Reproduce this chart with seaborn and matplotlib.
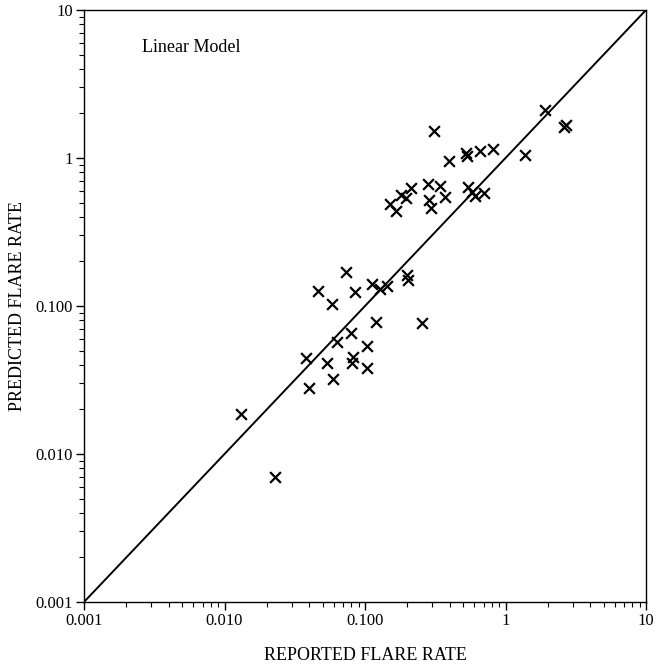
import matplotlib
matplotlib.use("Agg")
import matplotlib.pyplot as plt
import matplotlib.ticker as mticker
import seaborn as sns
import pandas as pd
import numpy as np

reported = [1.91, 2.62, 2.70, 0.311, 1.38, 0.818, 0.66, 0.52, 0.53, 0.398,
            0.543, 0.58, 0.61, 0.706, 0.342, 0.279, 0.371, 0.287, 0.295, 0.211,
            0.18, 0.195, 0.151, 0.166,
            0.073, 0.0466, 0.0585, 0.0849, 0.1117, 0.128, 0.144, 0.200, 0.203,
            0.119, 0.256, 0.0794, 0.063, 0.1038, 0.038, 0.0533, 0.0818, 0.0804,
            0.1028, 0.0589, 0.0399,
            0.0130, 0.0229]
predicted = [2.11, 1.62, 1.68, 1.52, 1.05, 1.15, 1.11, 1.08, 1.03, 0.955,
             0.64, 0.59, 0.55, 0.583, 0.65, 0.664, 0.548, 0.52, 0.462, 0.624,
             0.56, 0.54, 0.487, 0.439,
             0.169, 0.126, 0.1026, 0.124, 0.141, 0.130, 0.1365, 0.162, 0.151,
             0.0776, 0.0764, 0.066, 0.0574, 0.0537, 0.0443, 0.0414, 0.045, 0.041,
             0.0379, 0.032, 0.0281,
             0.0186, 0.00696]

line_x = [0.001, 10]
tick_vals = [0.001, 0.01, 0.1, 1, 10]
tick_labels = ["0.001", "0.010", "0.100", "1", "10"]

df = pd.DataFrame({"reported": reported, "predicted": predicted})
line_df = pd.DataFrame({"x": line_x, "y": line_x})

sns.set_theme(style="ticks")
plt.rcParams["font.family"] = ["Liberation Serif", "DejaVu Serif"]

fig = plt.figure(figsize=(6.56, 6.66), dpi=100)
ax = fig.add_axes([84/656, 1-602/666, 562/656, 592/666])

sns.lineplot(data=line_df, x="x", y="y", ax=ax, color="black", linewidth=1.4)
sns.scatterplot(data=df, x="reported", y="predicted", ax=ax, marker="x",
                color="black", s=60, linewidth=1.6)

ax.set_xscale("log")
ax.set_yscale("log")
ax.set_xlim(0.001, 10)
ax.set_ylim(0.001, 10)

ax.xaxis.set_major_locator(mticker.FixedLocator(tick_vals))
ax.xaxis.set_major_formatter(mticker.FixedFormatter(tick_labels))
ax.yaxis.set_major_locator(mticker.FixedLocator(tick_vals))
ax.yaxis.set_major_formatter(mticker.FixedFormatter(tick_labels))
ax.xaxis.set_minor_locator(mticker.LogLocator(base=10, subs=np.arange(2, 10)))
ax.yaxis.set_minor_locator(mticker.LogLocator(base=10, subs=np.arange(2, 10)))
ax.xaxis.set_minor_formatter(mticker.NullFormatter())
ax.yaxis.set_minor_formatter(mticker.NullFormatter())

ax.tick_params(which="major", direction="out", length=6, width=1, labelsize=12,
               color="black", labelcolor="black", pad=2)
ax.tick_params(which="minor", direction="out", length=3.5, width=0.8, color="black")

for sp in ax.spines.values():
    sp.set_color("black")
    sp.set_linewidth(1.0)

ax.set_xlabel("REPORTED FLARE RATE", fontsize=13, color="black", labelpad=13)
ax.set_ylabel("PREDICTED FLARE RATE", fontsize=13, color="black", labelpad=7)

ax.text(0.103, 0.936, "Linear Model", transform=ax.transAxes, fontsize=13,
        color="black", ha="left", va="center")

fig.savefig("out.png", dpi=100)
